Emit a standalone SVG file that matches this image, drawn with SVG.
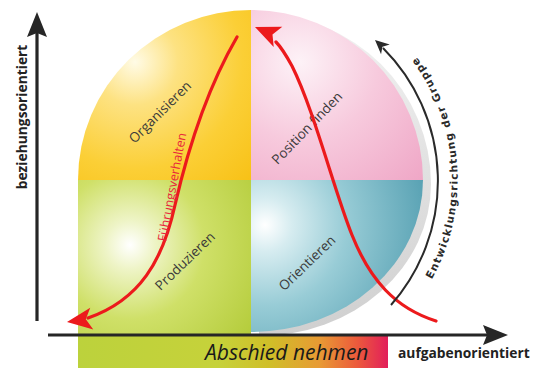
<svg xmlns="http://www.w3.org/2000/svg" width="540" height="371" viewBox="0 0 540 371">
  <style>
    .lbl { font-family: "Open Sans", "DejaVu Sans", sans-serif; font-size: 13.5px; fill: #3a3a3a; text-anchor: middle; }
    .axis-lbl { font-family: "Open Sans", "DejaVu Sans", sans-serif; font-size: 13.8px; font-weight: bold; fill: #222; }
    .axis { stroke: #262626; stroke-width: 3.2; fill: none; }
    .red { stroke: #ec1a1c; stroke-width: 3.2; fill: none; stroke-linecap: round; }
    .redhead { fill: #ec1a1c; }
  </style>
  <defs>
    <radialGradient id="gYellow" gradientUnits="userSpaceOnUse" cx="135" cy="62" r="195">
      <stop offset="0" stop-color="#fffbe6"/>
      <stop offset="0.22" stop-color="#fde282"/>
      <stop offset="0.55" stop-color="#fbcf36"/>
      <stop offset="1" stop-color="#f6ba06"/>
    </radialGradient>
    <radialGradient id="gPink" gradientUnits="userSpaceOnUse" cx="300" cy="62" r="195">
      <stop offset="0" stop-color="#fdf2f7"/>
      <stop offset="0.4" stop-color="#f7cadd"/>
      <stop offset="1" stop-color="#ed9dc0"/>
    </radialGradient>
    <radialGradient id="gGreen" gradientUnits="userSpaceOnUse" cx="130" cy="245" r="165">
      <stop offset="0" stop-color="#ffffff"/>
      <stop offset="0.15" stop-color="#eef4c6"/>
      <stop offset="0.45" stop-color="#cfe068"/>
      <stop offset="1" stop-color="#afc832"/>
    </radialGradient>
    <radialGradient id="gTeal" gradientUnits="userSpaceOnUse" cx="265" cy="225" r="168">
      <stop offset="0" stop-color="#ffffff"/>
      <stop offset="0.16" stop-color="#d6ecf0"/>
      <stop offset="0.48" stop-color="#98ccd6"/>
      <stop offset="1" stop-color="#56a0b2"/>
    </radialGradient>
    <linearGradient id="gShadow" x1="0" y1="0" x2="0" y2="1">
      <stop offset="0" stop-color="#f2f2f2"/>
      <stop offset="1" stop-color="#cfcfcf"/>
    </linearGradient>
    <linearGradient id="gBar" gradientUnits="userSpaceOnUse" x1="78" y1="0" x2="388" y2="0">
      <stop offset="0" stop-color="#bcd23c"/>
      <stop offset="0.45" stop-color="#c6d23a"/>
      <stop offset="0.62" stop-color="#d0be28"/>
      <stop offset="0.78" stop-color="#e89a34"/>
      <stop offset="0.9" stop-color="#ec5a3c"/>
      <stop offset="1" stop-color="#e21e5a"/>
    </linearGradient>
    <path id="redHead" d="M0,0 L-25,-11 L-19,0 L-25,11 Z"/>
    <path id="blackHead" d="M0,0 L-14,-6.5 L-10,0 L-14,6.5 Z"/>
    <path id="axisHead" d="M0,0 L-25,-10 L-21,0 L-25,10 Z"/>
    <path id="arcText" d="M420,298 A204,204 0 0 0 384,23"/>
  </defs>

  <!-- quadrants -->
  <g id="shadow">
    <path transform="translate(8,4)" d="M251,10 A172,170 0 0 1 423,180 A172,152 0 0 1 251,332 Z" fill="url(#gShadow)"/>
  </g>
  <g id="organisieren">
    <path d="M251,180 L78,180 A173,170 0 0 1 251,10 Z" fill="url(#gYellow)"/>
    <text class="lbl" transform="translate(160,112) rotate(-45)" dy="0.35em">Organisieren</text>
  </g>
  <g id="position-finden">
    <path d="M251,180 L251,10 A172,170 0 0 1 423,180 Z" fill="url(#gPink)"/>
    <text class="lbl" transform="translate(307,128) rotate(-46)" dy="0.35em">Position finden</text>
  </g>
  <g id="produzieren">
    <rect x="78" y="180" width="173" height="157" fill="url(#gGreen)"/>
    <text class="lbl" transform="translate(185,261) rotate(-44)" dy="0.35em">Produzieren</text>
  </g>
  <g id="orientieren">
    <path d="M251,180 L423,180 A172,152 0 0 1 251,332 Z" fill="url(#gTeal)"/>
    <text class="lbl" transform="translate(307,263) rotate(-44)" dy="0.35em">Orientieren</text>
  </g>
  <g id="abschied-nehmen">
    <rect x="78" y="336" width="310" height="32" fill="url(#gBar)"/>
    <text x="205" y="360" font-family="'Open Sans', 'DejaVu Sans', sans-serif" font-size="21" font-style="italic" fill="#1a1a1a">Abschied nehmen</text>
  </g>

  <!-- axes -->
  <g id="axes">
    <line class="axis" x1="37" y1="321" x2="37" y2="30"/>
    <use href="#axisHead" transform="translate(37,12) rotate(-90)" fill="#262626"/>
    <line class="axis" x1="48" y1="335" x2="490" y2="335"/>
    <use href="#axisHead" transform="translate(508,335)" fill="#262626"/>
    <text class="axis-lbl" transform="translate(27,117) rotate(-90)" text-anchor="middle">beziehungsorientiert</text>
    <text class="axis-lbl" x="398" y="358" font-size="14.5">aufgabenorientiert</text>
  </g>

  <!-- connectors -->
  <g id="connectors">
    <path class="red" d="M237,37 C212,80 190,140 175,205 C163,260 140,300 88,318"/>
    <use class="redhead" href="#redHead" transform="translate(67,322) rotate(172)"/>
    <path class="red" d="M436,321 C395,308 370,280 352,235 C334,190 314,110 292,66 C286,55 282,48 276,42"/>
    <use class="redhead" href="#redHead" transform="translate(255,27) rotate(-157)"/>
    <text transform="translate(172,187) rotate(-79.5)" dy="0.35em" text-anchor="middle" font-family="'Open Sans', 'DejaVu Sans', sans-serif" font-size="12.5" fill="#e8263c">Führungsverhalten</text>

    <path d="M391,305 A188,188 0 0 0 383,48" stroke="#2a2a2a" stroke-width="2" fill="none"/>
    <use href="#blackHead" transform="translate(375,40) rotate(-138)" fill="#2a2a2a"/>
    <text font-family="'DejaVu Sans', sans-serif" font-size="10.5" font-weight="bold" fill="#2a2a2a" letter-spacing="1.2">
      <textPath href="#arcText" startOffset="46%" text-anchor="middle">Entwicklungsrichtung der Gruppe</textPath>
    </text>
  </g>
</svg>
